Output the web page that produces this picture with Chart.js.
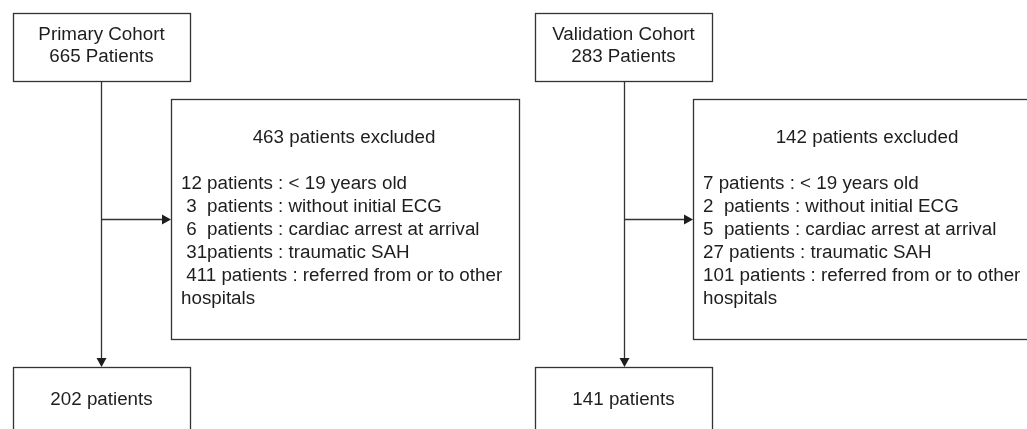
<!DOCTYPE html>
<html>
<head>
<meta charset="utf-8">
<script src="https://cdn.jsdelivr.net/npm/chart.js@4.4.0/dist/chart.umd.min.js"></script>
<style>
  html, body { margin: 0; padding: 0; background: #fff; }
  #wrap { width: 1027px; height: 429px; position: relative; }
</style>
</head>
<body>
<div id="wrap"><canvas id="flow"></canvas></div>
<script>
// flow data
const cohorts = ['Primary Cohort', 'Validation Cohort'];
const totalPatients = [665, 283];
const excludedPatients = [463, 142];
const reasons = ['< 19 years old', 'without initial ECG', 'cardiac arrest at arrival', 'traumatic SAH', 'referred from or to other'];
const primaryExcluded = [12, 3, 6, 31, 411];
const validationExcluded = [7, 2, 5, 27, 101];
const finalPatients = [202, 141];
// text as typed in the original figure (odd spacing kept)
const primaryPrefix = ['', ' ', ' ', ' ', ' '];
const primaryGap = [' ', '  ', '  ', '', ' '];
const validationPrefix = ['', '', '', '', ''];
const validationGap = [' ', '  ', '  ', ' ', ' '];

const excludedCounts = [primaryExcluded, validationExcluded];
const prefixes = [primaryPrefix, validationPrefix];
const gaps = [primaryGap, validationGap];

const LINE = '#333333';
const TEXT = '#1e1e1e';
const FONT = '18.8px "Liberation Sans", Arial, sans-serif';

// layout of one column, in chart units (x 0..1027, y 0..429)
const columns = [
	{ box: [13, 190], trunk: 101, excl: [171, 519], head: 344, textX: 181 },
	{ box: [535, 712], trunk: 624, excl: [693, 1035], head: 867, textX: 703 }
];

function reasonLines(i) {
	const out = [];
	excludedCounts[i].forEach((n, k) => {
		out.push(prefixes[i][k] + n + gaps[i][k] + 'patients : ' + reasons[k]);
	});
	out.push('hospitals');
	return out;
}

const flowPlugin = {
	id: 'flow',
	afterDraw(chart) {
		const ctx = chart.ctx;
		const sx = chart.scales.x, sy = chart.scales.y;
		const X = v => sx.getPixelForValue(v);
		const Y = v => sy.getPixelForValue(v);

		ctx.save();
		ctx.strokeStyle = LINE;
		ctx.fillStyle = TEXT;
		ctx.lineWidth = 1.3;
		ctx.font = FONT;
		ctx.textBaseline = 'middle';

		function rect(x0, x1, y0, y1) {
			ctx.strokeRect(X(x0) + 0.5, Y(y0) + 0.5, X(x1) - X(x0), Y(y1) - Y(y0));
		}
		function arrowDown(x, tip) {
			ctx.beginPath();
			ctx.moveTo(X(x), Y(tip));
			ctx.lineTo(X(x) - 5, Y(tip) - 9);
			ctx.lineTo(X(x) + 5, Y(tip) - 9);
			ctx.closePath();
			ctx.fill();
		}
		function arrowRight(tip, y) {
			ctx.beginPath();
			ctx.moveTo(X(tip), Y(y));
			ctx.lineTo(X(tip) - 9, Y(y) - 5);
			ctx.lineTo(X(tip) - 9, Y(y) + 5);
			ctx.closePath();
			ctx.fill();
		}

		columns.forEach((c, i) => {
			const mid = (c.box[0] + c.box[1]) / 2;
			// top box
			rect(c.box[0], c.box[1], 13, 81);
			ctx.textAlign = 'center';
			ctx.fillText(cohorts[i], X(mid), Y(35));
			ctx.fillText(totalPatients[i] + ' Patients', X(mid), Y(57));

			// trunk + arrows
			ctx.beginPath();
			ctx.moveTo(X(c.trunk) + 0.5, Y(81));
			ctx.lineTo(X(c.trunk) + 0.5, Y(360));
			ctx.moveTo(X(c.trunk), Y(219) + 0.5);
			ctx.lineTo(X(c.excl[0]) - 8, Y(219) + 0.5);
			ctx.stroke();
			arrowDown(c.trunk + 0.5, 367);
			arrowRight(c.excl[0], 219.5);

			// exclusion box
			rect(c.excl[0], c.excl[1], 99, 339);
			ctx.fillText(excludedPatients[i] + ' patients excluded', X(c.head), Y(138));
			ctx.textAlign = 'left';
			reasonLines(i).forEach((t, k) => {
				ctx.fillText(t, X(c.textX), Y(184 + k * 23));
			});

			// final box
			rect(c.box[0], c.box[1], 367, 440);
			ctx.textAlign = 'center';
			ctx.fillText(finalPatients[i] + ' patients', X(mid), Y(400));
		});
		ctx.restore();
	}
};

new Chart(document.getElementById('flow'), {
	type: 'scatter',
	data: { datasets: [{ data: [], pointRadius: 0 }] },
	options: {
		responsive: true,
		maintainAspectRatio: false,
		animation: false,
		layout: { padding: 0 },
		plugins: { legend: { display: false }, tooltip: { enabled: false } },
		scales: {
			x: { type: 'linear', min: 0, max: 1027, display: false },
			y: { type: 'linear', min: 0, max: 429, reverse: true, display: false }
		}
	},
	plugins: [flowPlugin]
});
</script>
</body>
</html>
